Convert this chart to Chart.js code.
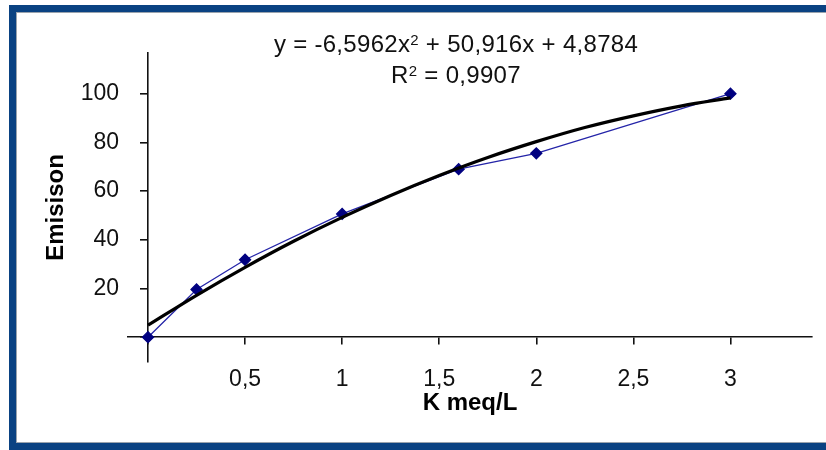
<!DOCTYPE html>
<html>
<head>
<meta charset="utf-8">
<script src="https://cdn.jsdelivr.net/npm/chart.js@4.4.1/dist/chart.umd.min.js"></script>
<style>
  html, body { margin: 0; padding: 0; background: #fff; overflow: hidden; }
  #frame {
    position: absolute; left: 9px; top: 5px; width: 860px; height: 450px;
    border: 7px solid #0a4282; border-right: none;
    box-shadow: inset 1px 1px 0 #9aa3ad;
    background: #fff;
  }
  #frameBottom {
    position: absolute; left: 16px; top: 442px; width: 820px; height: 1px; background: #9aa3ad;
  }
  #frameBottom2 {
    position: absolute; left: 9px; top: 443px; width: 830px; height: 10px; background: #0a4282;
  }
  #chart { position: absolute; left: 0; top: 0; }
  .eq {
    position: absolute; left: 0; width: 912px; text-align: center;
    font-family: "Liberation Sans", Arial, sans-serif; font-size: 24px; line-height: 24px;
    letter-spacing: 0.3px; color: #111;
  }
  .eq sup { font-size: 15px; position: relative; top: -4px; vertical-align: top; }
</style>
</head>
<body>
<div id="frame"></div>
<div id="frameBottom2"></div>
<div id="frameBottom"></div>
<canvas id="chart" width="826" height="450"></canvas>
<div class="eq" style="top:32px">y = -6,5962x<sup>2</sup> + 50,916x + 4,8784</div>
<div class="eq" style="top:63px">R<sup>2</sup> = 0,9907</div>
<script>
// measured points
var kConc = [0, 0.25, 0.5, 1, 1.6, 2, 3];
var emission = [0, 19.6, 31.8, 50.6, 69, 75.5, 100];

// polynomial trend line
var trendX = [0, 0.25, 0.5, 0.75, 1, 1.25, 1.5, 1.75, 2, 2.25, 2.5, 2.75, 3];
var trendY = [4.9, 17.2, 28.7, 39.4, 49.2, 58.2, 66.4, 73.8, 80.3, 86.1, 90.9, 95.0, 98.3];

// axis ticks
var xTicks = [0, 0.5, 1, 1.5, 2, 2.5, 3];
var yTicks = [0, 20, 40, 60, 80, 100];

var labelFont = { family: "'Liberation Sans', Arial, sans-serif", size: 23 };
var titleFont = { family: "'Liberation Sans', Arial, sans-serif", size: 24, weight: 'bold' };

function toPoints(xs, ys) {
	var pts = [];
	for (var i = 0; i < xs.length; i++) {
		pts.push({ x: xs[i], y: ys[i] });
	}
	return pts;
}

function fixTicks(list) {
	return function(axis) {
		axis.ticks = list.map(function(v) { return { value: v }; });
	};
}

var X_MIN = -0.103, X_MAX = 3.42;
var Y_MIN = -10.2, Y_MAX = 116.7;

var ctx = document.getElementById('chart');

var chart = new Chart(ctx, {
	type: 'scatter',
	data: {
		datasets: [
			{
				label: 'Emission',
				data: toPoints(kConc, emission),
				showLine: true,
				borderColor: '#2424a8',
				borderWidth: 1.3,
				backgroundColor: '#000080',
				pointBackgroundColor: '#000080',
				pointBorderColor: '#000080',
				pointStyle: 'rectRot',
				pointRadius: 5.5,
				order: 2
			},
			{
				label: 'Poly. (Emission)',
				data: toPoints(trendX, trendY),
				showLine: true,
				borderColor: '#000',
				borderWidth: 3.2,
				pointRadius: 0,
				cubicInterpolationMode: 'monotone',
				order: 1
			}
		]
	},
	options: {
		responsive: false,
		animation: false,
		layout: { padding: { left: 15, top: 53, right: 14, bottom: 10 } },
		plugins: {
			legend: { display: false },
			tooltip: { enabled: false }
		},
		scales: {
			x: {
				type: 'linear',
				position: 'bottom',
				min: X_MIN, max: X_MAX,
				afterBuildTicks: fixTicks(xTicks),
				afterFit: function(s) { s.height = 78; },
				grid: { display: false },
				border: { display: false },
				ticks: {
					font: labelFont, color: '#111', padding: -4, maxRotation: 0,
					callback: function(v) { return v === 0 ? '' : String(v).replace('.', ','); }
				},
				title: { display: true, text: 'K meq/L', font: titleFont, color: '#000', padding: { top: 0, bottom: 22 } }
			},
			y: {
				type: 'linear',
				position: 'left',
				min: Y_MIN, max: Y_MAX,
				afterBuildTicks: fixTicks(yTicks),
				afterFit: function(s) { s.width = 113; },
				grid: { display: false },
				border: { display: false },
				ticks: {
					font: labelFont, color: '#111', padding: 1,
					callback: function(v) { return v === 0 ? '' : String(v); }
				},
				title: { display: true, text: 'Emisison', font: titleFont, color: '#000', padding: { top: 27, bottom: 0 } }
			},
			// axis lines crossing at the origin
			x2: {
				type: 'linear',
				position: { y: 0 },
				min: X_MIN, max: X_MAX,
				afterBuildTicks: fixTicks(xTicks),
				grid: { drawOnChartArea: false, tickLength: 7, color: '#111', lineWidth: 1.6 },
				border: { color: '#111', width: 1.6 },
				ticks: { display: false }
			},
			y2: {
				type: 'linear',
				position: { x: 0 },
				min: Y_MIN, max: Y_MAX,
				afterBuildTicks: fixTicks(yTicks),
				grid: { drawOnChartArea: false, tickLength: 7, color: '#111', lineWidth: 1.6 },
				border: { color: '#111', width: 1.6 },
				ticks: { display: false }
			}
		}
	}
});
</script>
</body>
</html>
